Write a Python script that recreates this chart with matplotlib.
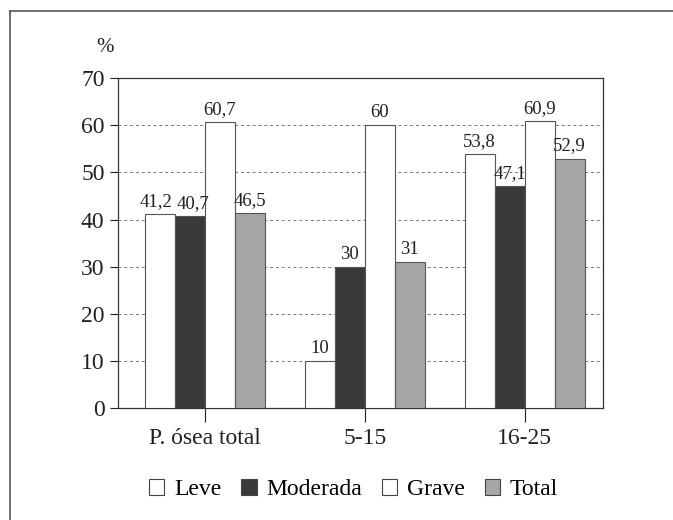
import matplotlib.pyplot as plt
import numpy as np
from matplotlib.lines import Line2D

# Data
groups = ['P. ósea total', '5-15', '16-25']
series = ['Leve', 'Moderada', 'Grave', 'Total']
leve = [41.2, 10, 53.8]
moderada = [40.7, 30, 47.1]
grave = [60.7, 60, 60.9]
# the first "Total" bar is drawn at ~41 in the original although it is labelled 46,5
total = [41.3, 31, 52.9]
labels_leve = ['41,2', '10', '53,8']
labels_moderada = ['40,7', '30', '47,1']
labels_grave = ['60,7', '60', '60,9']
labels_total = ['46,5', '31', '52,9']

colors = ['#ffffff', '#3a3a3a', '#ffffff', '#a6a6a6']

plt.rcParams['font.family'] = ['Liberation Serif', 'DejaVu Serif']

fig = plt.figure(figsize=(6.73, 5.2), dpi=100)
ax = fig.add_axes([0.175, 0.215, 0.721, 0.635])

x = np.arange(len(groups))
w = 0.1875
offsets = [-1.5 * w, -0.5 * w, 0.5 * w, 1.5 * w]
values = [leve, moderada, grave, total]
labels = [labels_leve, labels_moderada, labels_grave, labels_total]

for i in range(4):
    bars = ax.bar(x + offsets[i], values[i], width=w, color=colors[i],
                  edgecolor='#555555', linewidth=0.8, zorder=3)
    for j, (b, lab) in enumerate(zip(bars, labels[i])):
        dx = 0
        # the two first labels sit close together; push them apart a little
        if j == 0 and i == 0:
            dx = -3
        if j == 0 and i == 1:
            dx = 2
        ax.annotate(lab, (b.get_x() + b.get_width() / 2, b.get_height()),
                    xytext=(dx, 3), textcoords='offset points',
                    ha='center', va='bottom', fontsize=13.5, color='#222222', zorder=4)

ax.set_ylim(0, 70)
ax.set_xlim(-0.544, 2.49)
ax.set_yticks(range(0, 71, 10))
ax.set_xticks(x)
ax.set_xticklabels(groups)
ax.tick_params(axis='both', labelsize=17, colors='#222222', length=6, width=0.8)
ax.tick_params(axis='x', length=10, pad=4)
ax.yaxis.grid(True, linestyle=(0, (3, 3)), color='#777777', linewidth=0.7, zorder=0)
for s in ['left', 'bottom', 'top', 'right']:
    ax.spines[s].set_color('#333333')
    ax.spines[s].set_linewidth(0.9)

fig.text(0.156, 0.908, '%', fontsize=15, ha='center', va='center', color='#222222')

handles = [plt.Rectangle((0, 0), 1, 1, facecolor=c, edgecolor='#444444', linewidth=0.8)
           for c in colors]
fig.legend(handles, series, loc='center', bbox_to_anchor=(0.525, 0.058), ncol=4,
           frameon=False, fontsize=17, handlelength=0.65, handleheight=0.65,
           handletextpad=0.4, columnspacing=0.85)

# Outer frame of the scanned figure (top and left edges)
fig.add_artist(Line2D([0.015, 1.0], [0.979, 0.979], color='#555555', linewidth=1.2))
fig.add_artist(Line2D([0.015, 0.015], [0.0, 0.979], color='#555555', linewidth=1.2))

fig.savefig('out.png', dpi=100)
